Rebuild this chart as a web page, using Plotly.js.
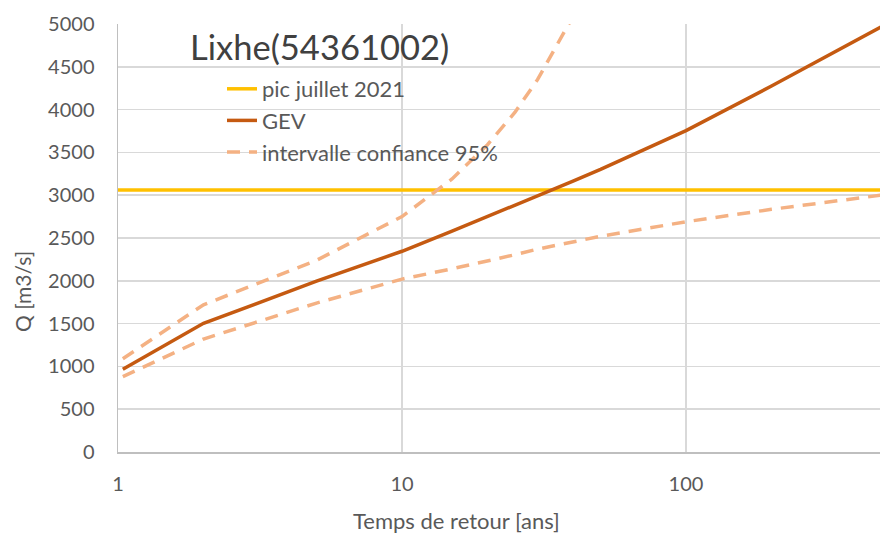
<!DOCTYPE html>
<html>
<head>
<meta charset="utf-8">
<script src="https://cdn.plot.ly/plotly-3.0.1.min.js"></script>
<style>
  html, body { margin: 0; padding: 0; background: #ffffff; }
  #chart { width: 880px; height: 536px; }
</style>
</head>
<body>
<div id="chart"></div>
<script>
// Return periods (years)
var returnPeriods = [1.04, 2, 5, 10, 15, 20, 25, 30, 40, 50, 100, 200, 500];
// GEV fitted discharge (m3/s)
var gevQ = [966, 1503, 1995, 2345, 2580, 2749, 2881, 2990, 3164, 3301, 3754, 4276, 4988];
// 95% confidence interval bounds (m3/s)
var ciUpper = [1090, 1720, 2240, 2750, 3190, 3590, 3970, 4350, 5090, 5720, 7200, 8800, 11000];
var ciLower = [880, 1320, 1740, 2020, 2140, 2230, 2305, 2370, 2455, 2520, 2690, 2835, 3005];
// July 2021 peak (m3/s)
var peakPeriods = [1, 500];
var peakJuly2021 = [3062, 3062];

var labels = {
  title: 'Lixhe(54361002)',
  peak: 'pic juillet 2021',
  gev: 'GEV',
  ci: 'intervalle confiance 95%',
  xTitle: 'Temps de retour [ans]',
  yTitle: 'Q [m3/s]'
};
var xTickVals = [1, 10, 100];
var xTickText = ['1', '10', '100'];

var FONT = 'Lato, "Open Sans", sans-serif';
var GREY = '#595959';

var traces = [
  {
    x: peakPeriods, y: peakJuly2021, name: labels.peak, mode: 'lines',
    line: { color: '#FFC000', width: 3.5 }, legendgroup: 'a'
  },
  {
    x: returnPeriods, y: gevQ, name: labels.gev, mode: 'lines',
    line: { color: '#C55A11', width: 3.5 }, legendgroup: 'b'
  },
  {
    x: returnPeriods, y: ciUpper, name: labels.ci, mode: 'lines',
    line: { color: '#F4B183', width: 3.5, dash: '13px,9px' }, legendgroup: 'c'
  },
  {
    x: returnPeriods, y: ciLower, name: labels.ci, mode: 'lines', showlegend: false,
    line: { color: '#F4B183', width: 3.5, dash: '13px,9px' }, legendgroup: 'c'
  }
];

var layout = {
  width: 880, height: 536,
  margin: { l: 118, r: 0, t: 24, b: 84 },
  paper_bgcolor: '#ffffff', plot_bgcolor: '#ffffff',
  font: { family: FONT, color: GREY, size: 20 },
  title: {
    text: labels.title,
    x: 190 / 880, xanchor: 'left', xref: 'container',
    y: 1 - 48 / 536, yanchor: 'middle', yref: 'container',
    font: { family: FONT, size: 34.5, color: '#404040' }
  },
  xaxis: {
    type: 'log', range: [0, Math.log10(500) - 0.016],
    tickvals: xTickVals, ticktext: xTickText,
    showgrid: true, gridcolor: '#d9d9d9', gridwidth: 1.5,
    showline: true, linecolor: '#bfbfbf', linewidth: 1.5,
    ticks: 'outside', ticklen: 13, tickcolor: 'rgba(0,0,0,0)',
    tickfont: { family: FONT, size: 20, color: GREY },
    zeroline: false, fixedrange: true
  },
  yaxis: {
    range: [0, 5000], dtick: 500, tick0: 0,
    showgrid: true, gridcolor: '#d9d9d9', gridwidth: 1.5,
    showline: true, linecolor: '#bfbfbf', linewidth: 1.5,
    ticks: 'outside', ticklen: 18, tickcolor: 'rgba(0,0,0,0)',
    tickfont: { family: FONT, size: 20, color: GREY },
    zeroline: false, fixedrange: true
  },
  showlegend: true,
  legend: {
    x: (222 - 118) / 762, xanchor: 'left',
    y: 1 - (68 - 24) / 428, yanchor: 'top',
    bgcolor: 'rgba(255,255,255,0)', borderwidth: 0,
    font: { family: FONT, size: 22, color: GREY },
    tracegroupgap: 4, traceorder: 'normal'
  },
  annotations: [
    {
      text: labels.xTitle, xref: 'paper', yref: 'paper',
      x: (456 - 118) / 762, y: -(520 - 452) / 428,
      xanchor: 'center', yanchor: 'middle', showarrow: false,
      font: { family: FONT, size: 22, color: GREY }
    },
    {
      text: labels.yTitle, xref: 'paper', yref: 'paper',
      x: -(118 - 22) / 762, y: (452 - 292) / 428,
      xanchor: 'center', yanchor: 'middle', showarrow: false, textangle: -90,
      font: { family: FONT, size: 21, color: GREY }
    }
  ]
};

Plotly.newPlot('chart', traces, layout, { displayModeBar: false, staticPlot: true });
</script>
</body>
</html>
